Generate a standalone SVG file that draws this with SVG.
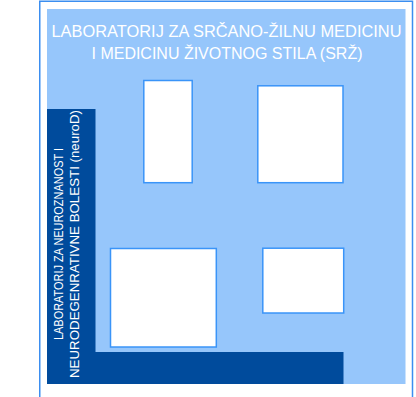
<svg xmlns="http://www.w3.org/2000/svg" width="416" height="397" viewBox="0 0 416 397">
  <style>
    .frame { fill: none; stroke: #3b8ef0; stroke-width: 1.5; }
    .zone { fill: #96c6fb; }
    .dark { fill: #004b9c; }
    .box { fill: #ffffff; stroke: #3a94f8; stroke-width: 1.5; }
    .title { font-family: "Liberation Sans", Arial, Helvetica, sans-serif; font-size: 16px; fill: #ffffff; text-anchor: middle; }
    .vtitle { font-family: "Liberation Sans", Arial, Helvetica, sans-serif; font-size: 13.5px; fill: #ffffff; text-anchor: middle; }
  </style>
  <rect x="0" y="0" width="416" height="397" fill="#ffffff"/>
  <g id="frame">
    <path class="frame" d="M39.75,397 V1.25 H412.5 V397"/>
  </g>
  <g id="srz">
    <rect class="zone" x="47" y="9" width="358.5" height="375"/>
    <text class="title" x="226.5" y="37.3" textLength="350" lengthAdjust="spacingAndGlyphs">LABORATORIJ ZA SRČANO-ŽILNU MEDICINU</text>
    <text class="title" x="227" y="58.8" textLength="271" lengthAdjust="spacingAndGlyphs">I MEDICINU ŽIVOTNOG STILA (SRŽ)</text>
  </g>
  <g id="neuroD">
    <path class="dark" d="M47,109 H95.5 V352 H343.5 V384 H47 Z"/>
    <text class="vtitle" transform="translate(63,244) rotate(-90)" textLength="192" lengthAdjust="spacingAndGlyphs">LABORATORIJ ZA NEUROZNANOST I</text>
    <text class="vtitle" transform="translate(79.3,244) rotate(-90)" textLength="268" lengthAdjust="spacingAndGlyphs">NEURODEGENRATIVNE BOLESTI (neuroD)</text>
  </g>
  <g id="room1"><rect class="box" x="143.8" y="80.5" width="48.4" height="102.2"/></g>
  <g id="room2"><rect class="box" x="257.8" y="85.8" width="85.2" height="96.9"/></g>
  <g id="room3"><rect class="box" x="110.5" y="248.5" width="105.8" height="98.5"/></g>
  <g id="room4"><rect class="box" x="262.8" y="248.2" width="80.9" height="64.8"/></g>
  <g id="connectors"></g>
</svg>
